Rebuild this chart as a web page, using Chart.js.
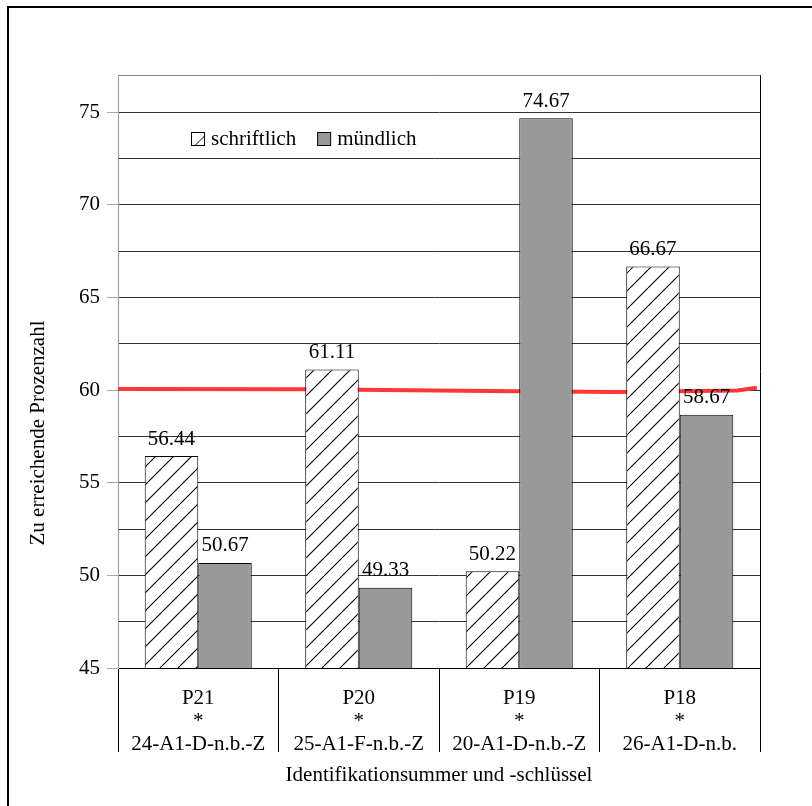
<!DOCTYPE html>
<html><head><meta charset="utf-8">
<script src="https://cdn.jsdelivr.net/npm/chart.js@4"></script>
<style>html,body{margin:0;padding:0;background:#fff;} canvas{display:block;}</style>
</head><body>
<canvas id="c" width="812" height="806"></canvas>
<script>
const categories = [
  ['P21', '*', '24-A1-D-n.b.-Z'],
  ['P20', '*', '25-A1-F-n.b.-Z'],
  ['P19', '*', '20-A1-D-n.b.-Z'],
  ['P18', '*', '26-A1-D-n.b.']
];
const seriesNames = ['schriftlich', 'mündlich'];
const schriftlich = [56.44, 61.11, 50.22, 66.67];
const muendlich = [50.67, 49.33, 74.67, 58.67];
// hand-drawn red reference line near 60, positions in category-index units (-0.5 = left edge, 3.5 = right edge)
const targetX = [-0.5, 0.66, 1.98, 2.62, 3.36, 3.48];
const targetY = [60.05, 60.04, 59.94, 59.90, 59.98, 60.12];
const yTicks = [45, 47.5, 50, 52.5, 55, 57.5, 60, 62.5, 65, 67.5, 70, 72.5, 75];
const yMin = 45, yMax = 77;
const xTitle = 'Identifikationsummer und -schlüssel';
const yTitle = 'Zu erreichende Prozenzahl';

const FONT = '"Liberation Serif", "Times New Roman", serif';
const canvas = document.getElementById('c');
const mainCtx = canvas.getContext('2d');

function makeHatch() {
  const s = 18;
  const c = document.createElement('canvas'); c.width = s; c.height = s;
  const g = c.getContext('2d');
  g.fillStyle = '#fff'; g.fillRect(0, 0, s, s);
  g.strokeStyle = '#000'; g.lineWidth = 1.1;
  g.beginPath();
  for (const k of [-1, 0, 1]) { g.moveTo(k * s, s); g.lineTo(k * s + s, 0); }
  g.stroke();
  return mainCtx.createPattern(c, 'repeat');
}
const hatch = makeHatch();
const GRAY = '#999999';

const decor = {
  id: 'decor',
  beforeDraw(chart) {
    const ctx = chart.ctx;
    ctx.save();
    ctx.fillStyle = '#fff'; ctx.fillRect(0, 0, chart.width, chart.height);
    ctx.strokeStyle = '#000'; ctx.lineWidth = 2;
    ctx.beginPath(); ctx.moveTo(8, chart.height); ctx.lineTo(8, 7); ctx.lineTo(chart.width, 7); ctx.stroke();
    ctx.restore();
  },
  afterDatasetsDraw(chart) {
    const ctx = chart.ctx;
    ctx.save();
    ctx.font = '21px ' + FONT; ctx.fillStyle = '#000';
    ctx.textAlign = 'center'; ctx.textBaseline = 'middle';
    [schriftlich, muendlich].forEach((vals, i) => {
      const meta = chart.getDatasetMeta(i);
      meta.data.forEach((bar, j) => {
        ctx.fillText(vals[j].toFixed(2), bar.x, bar.y - 17);
      });
    });
    ctx.restore();
  },
  afterDraw(chart) {
    const ctx = chart.ctx, a = chart.chartArea;
    ctx.save();
    ctx.strokeStyle = '#000'; ctx.lineWidth = 1;
    const rx = Math.round(a.right) + 0.5;
    ctx.beginPath(); ctx.moveTo(rx, a.top); ctx.lineTo(rx, a.bottom); ctx.stroke();
    ctx.font = '21px ' + FONT; ctx.fillStyle = '#000';
    ctx.textAlign = 'left'; ctx.textBaseline = 'middle';
    let x = 191; const by = 132, bs = 13, ty = 139;
    ctx.fillStyle = '#fff'; ctx.fillRect(x + 0.5, by + 0.5, bs, bs);
    ctx.strokeStyle = '#000';
    ctx.strokeRect(x + 0.5, by + 0.5, bs, bs);
    ctx.beginPath(); ctx.moveTo(x + 4, by + bs + 0.5); ctx.lineTo(x + bs + 0.5, by + 4); ctx.stroke();
    ctx.fillStyle = '#000';
    ctx.fillText(seriesNames[0], x + bs + 7, ty);
    x = x + bs + 7 + ctx.measureText(seriesNames[0]).width + 21;
    ctx.fillStyle = GRAY; ctx.fillRect(x + 0.5, by + 0.5, bs, bs);
    ctx.strokeRect(x + 0.5, by + 0.5, bs, bs);
    ctx.fillStyle = '#000';
    ctx.fillText(seriesNames[1], x + bs + 7, ty);
    ctx.translate(38, 433);
    ctx.rotate(-Math.PI / 2);
    ctx.textAlign = 'center';
    ctx.fillText(yTitle, 0, 0);
    ctx.restore();
  }
};

Chart.defaults.color = '#000';
Chart.defaults.font.family = FONT;

new Chart(canvas, {
  type: 'bar',
  data: {
    labels: categories,
    datasets: [
      { label: seriesNames[0], data: schriftlich, backgroundColor: hatch, borderColor: '#000', borderWidth: 1,
        categoryPercentage: 0.667, barPercentage: 1.0, order: 0 },
      { label: seriesNames[1], data: muendlich, backgroundColor: GRAY, borderColor: '#000', borderWidth: 1,
        categoryPercentage: 0.667, barPercentage: 1.0, order: 1 },
      { type: 'line', label: 'Ziel', parsing: false,
        data: targetX.map((v, i) => ({ x: v, y: targetY[i] })),
        borderColor: 'rgb(255,55,55)', borderWidth: 4, pointRadius: 0, tension: 0, fill: false, order: 10 }
    ]
  },
  options: {
    responsive: false,
    animation: false,
    devicePixelRatio: 1,
    events: [],
    layout: { padding: { top: 75, right: 52, bottom: 16, left: 0 } },
    plugins: { legend: { display: false }, tooltip: { enabled: false } },
    scales: {
      x: {
        type: 'category',
        offset: true,
        grid: { offset: true, drawOnChartArea: false, drawTicks: true, tickLength: 84, color: '#000', tickColor: '#000' },
        border: { display: true, color: '#000', width: 1 },
        ticks: { font: { family: FONT, size: 21, lineHeight: 1.1 }, color: '#000', padding: -65,
                 maxRotation: 0, minRotation: 0, autoSkip: false },
        title: { display: true, text: xTitle, font: { family: FONT, size: 21 }, color: '#000',
                 padding: { top: 0, bottom: 2 } },
        afterFit: s => { s.height = 122; }
      },
      y: {
        type: 'linear',
        min: yMin, max: yMax,
        afterBuildTicks: s => { s.ticks = [...yTicks, yMax].map(v => ({ value: v })); },
        afterFit: s => { s.width = 118; },
        ticks: { font: { family: FONT, size: 21 }, color: '#000', padding: 7,
                 callback: v => (v % 5 === 0 ? String(v) : '') },
        grid: {
          color: c => (c.tick && c.tick.value === yMax) ? '#888' : '#333',
          tickColor: c => (c.tick && c.tick.value % 5 === 0) ? '#aaa' : 'rgba(0,0,0,0)',
          tickLength: 11, drawTicks: true
        },
        border: { display: true, color: '#999', width: 1 }
      }
    }
  },
  plugins: [decor]
});
</script>
</body></html>
